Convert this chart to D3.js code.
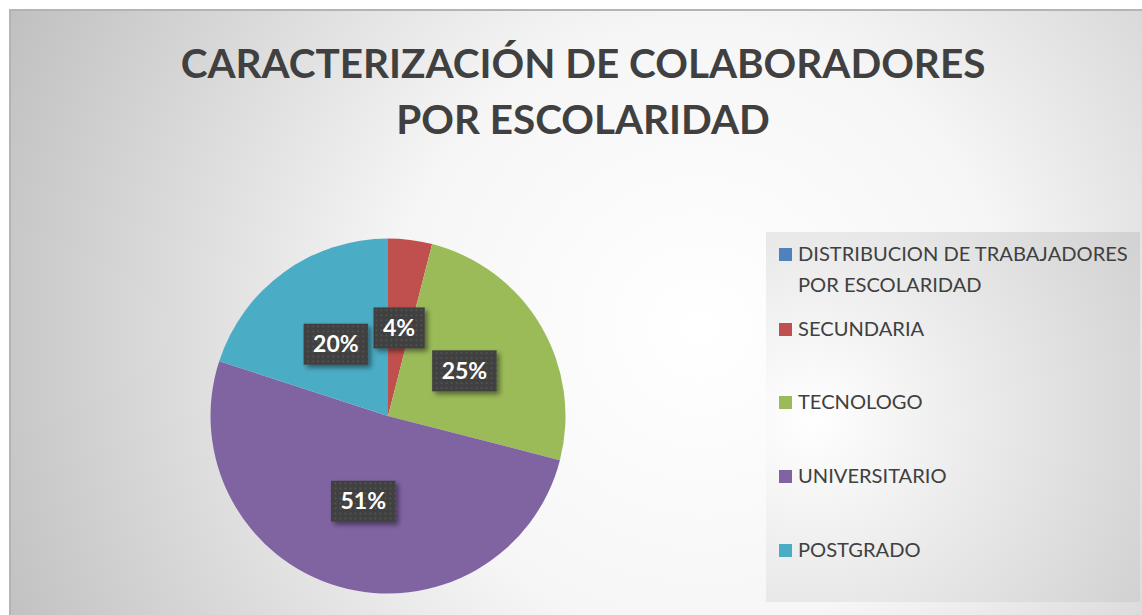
<!DOCTYPE html>
<html><head><meta charset="utf-8">
<script src="https://cdn.jsdelivr.net/npm/d3@7"></script>
<style>html,body{margin:0;padding:0;background:#fff;}svg{display:block;}</style>
</head><body>
<svg id="c" width="1142" height="615"></svg>
<script>
const titleLines = ["CARACTERIZACIÓN DE COLABORADORES", "POR ESCOLARIDAD"];
const categories = ["DISTRIBUCION DE TRABAJADORES POR ESCOLARIDAD", "SECUNDARIA", "TECNOLOGO", "UNIVERSITARIO", "POSTGRADO"];
const values = [0, 4, 25, 51, 20];
const colors = ["#4f81bd", "#c0504d", "#9bbb59", "#8064a2", "#4bacc6"];
const legendLines = [["DISTRIBUCION DE TRABAJADORES", "POR ESCOLARIDAD"], ["SECUNDARIA"], ["TECNOLOGO"], ["UNIVERSITARIO"], ["POSTGRADO"]];

const svg = d3.select("#c");
const defs = svg.append("defs");

const bg = defs.append("radialGradient").attr("id","bg").attr("gradientUnits","userSpaceOnUse")
  .attr("cx",700).attr("cy",330).attr("r",760);
bg.append("stop").attr("offset",0).attr("stop-color","#ffffff");
bg.append("stop").attr("offset",0.4).attr("stop-color","#f6f6f6");
bg.append("stop").attr("offset",1).attr("stop-color","#c0c0c0");

const lg = defs.append("radialGradient").attr("id","lg")
  .attr("cx",0.12).attr("cy",0.5).attr("r",1);
lg.append("stop").attr("offset",0).attr("stop-color","#ffffff");
lg.append("stop").attr("offset",1).attr("stop-color","#d2d2d2");

const pat = defs.append("pattern").attr("id","dots").attr("patternUnits","userSpaceOnUse")
  .attr("width",5).attr("height",5);
pat.append("rect").attr("width",5).attr("height",5).attr("fill","#404040");
pat.append("rect").attr("x",1.5).attr("y",1.5).attr("width",1.6).attr("height",1.6).attr("fill","#575757");

const sh = defs.append("filter").attr("id","sh").attr("x","-30%").attr("y","-30%").attr("width","160%").attr("height","160%");
sh.append("feDropShadow").attr("dx",3).attr("dy",3).attr("stdDeviation",2.5).attr("flood-color","#000").attr("flood-opacity",0.45);

// background
svg.append("rect").attr("x",9).attr("y",9).attr("width",1133).attr("height",606).attr("fill","url(#bg)");
svg.append("line").attr("x1",9).attr("x2",1142).attr("y1",10).attr("y2",10).attr("stroke","#b4b4b4").attr("stroke-width",2);
svg.append("line").attr("x1",10).attr("x2",10).attr("y1",9).attr("y2",615).attr("stroke","#b4b4b4").attr("stroke-width",2);

// title
const title = svg.append("g");
const t1 = title.append("text").attr("x",583).attr("y",78).attr("text-anchor","middle")
  .attr("font-family","Lato").attr("font-weight","bold").attr("font-size",44).attr("fill","#404040").text(titleLines[0]);
const w1 = t1.node().getComputedTextLength();
const tsize = 44*805/w1;
t1.attr("font-size",tsize);
title.append("text").attr("x",583).attr("y",134).attr("text-anchor","middle")
  .attr("font-family","Lato").attr("font-weight","bold").attr("font-size",tsize).attr("fill","#404040").text(titleLines[1]);

// pie
const cx = 388, cy = 416, R = 177.5;
const pie = d3.pie().sort(null).value(d=>d.v).startAngle(0).endAngle(2*Math.PI);
const data = categories.map((c,i)=>({c, v:values[i], col:colors[i]}));
const arcs = pie(data);
const arc = d3.arc().innerRadius(0).outerRadius(R);
const g = svg.append("g").attr("transform",`translate(${cx},${cy})`);
g.selectAll("path").data(arcs.filter(a=>a.data.v>0)).join("path")
  .attr("d",arc).attr("fill",d=>d.data.col).attr("stroke","none");

const total = d3.sum(values);
const labG = g.selectAll("g.lab").data(arcs.filter(a=>a.data.v>0)).join("g").attr("class","lab")
  .attr("transform",d=>{const [x,y]=arc.centroid(d);return `translate(${x},${y})`;});
labG.each(function(d){
  const sel = d3.select(this);
  const txt = sel.append("text").attr("text-anchor","middle").attr("y",8)
    .attr("font-family","Lato").attr("font-weight","bold").attr("font-size",23).attr("fill","#ffffff")
    .text(Math.round(d.data.v/total*100)+"%");
  const w = txt.node().getComputedTextLength();
  sel.insert("rect","text").attr("x",-(w+19)/2).attr("y",-20.5).attr("width",w+19).attr("height",41)
    .attr("fill","url(#dots)").attr("filter","url(#sh)");
});

// legend
svg.append("rect").attr("x",766).attr("y",232).attr("width",374).attr("height",370).attr("fill","url(#lg)");
const baselines = [[261,292],[336],[409],[483],[557]];
const lgG = svg.append("g");
let lsize = 21;
const probe = lgG.append("text").attr("font-family","Lato").attr("font-size",21).text(legendLines[0][0]);
lsize = 21*330/probe.node().getComputedTextLength();
probe.remove();
categories.forEach((c,i)=>{
  const b = baselines[i];
  lgG.append("rect").attr("x",779).attr("y",b[0]-13).attr("width",13).attr("height",13).attr("fill",colors[i]);
  legendLines[i].forEach((ln,j)=>{
    lgG.append("text").attr("x",798).attr("y",b[j]).attr("font-family","Lato").attr("font-size",lsize)
      .attr("fill","#404040").text(ln);
  });
});
</script>
</body></html>
